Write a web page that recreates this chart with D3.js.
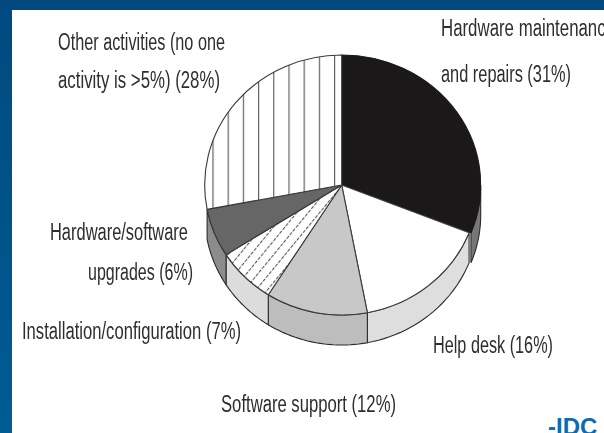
<!DOCTYPE html>
<html><head><meta charset="utf-8">
<script src="https://cdn.jsdelivr.net/npm/d3@7"></script>
<style>html,body{margin:0;padding:0;background:#004a80;overflow:hidden}svg{display:block}</style>
</head><body><div id="c"></div>
<script>
const categories = ["Hardware maintenance and repairs","Help desk","Software support","Installation/configuration","Hardware/software upgrades","Other activities"];
const values = [31,16,12,7,6,28];
const topFills = ["#1a1818","#ffffff","#c8c8c8","url(#diag)","#666666","url(#vert)"];
const sideFills = ["#777777","#dedede","#bdbdbd","#dcdcdc","#8c8c8c",null];
const labelLines = [
  {t:"Hardware maintenance",x:441,y:36,w:174},
  {t:"and repairs (31%)",x:441,y:82,w:130},
  {t:"Other activities (no one",x:58,y:50,w:167},
  {t:"activity is >5%) (28%)",x:58,y:88,w:162},
  {t:"Hardware/software",x:50,y:240,w:138},
  {t:"upgrades (6%)",x:88,y:280,w:105},
  {t:"Installation/configuration (7%)",x:22,y:339,w:219},
  {t:"Help desk (16%)",x:433,y:353,w:120},
  {t:"Software support (12%)",x:221,y:412,w:175}
];
const W=604,H=433,cx=341.7,cy=185,rx=137,blackRx=139,ry=130,depth=30;
const svg=d3.select("#c").append("svg").attr("width",W).attr("height",H).attr("viewBox",`0 0 ${W} ${H}`);
const defs=svg.append("defs");
const g=defs.append("linearGradient").attr("id","bg").attr("x1",0).attr("x2",0).attr("y1",0).attr("y2",1);
g.append("stop").attr("offset",0).attr("stop-color","#004a80");
g.append("stop").attr("offset",1).attr("stop-color","#005c93");
const pv=defs.append("pattern").attr("id","vert").attr("patternUnits","userSpaceOnUse").attr("width",15.2).attr("height",40).attr("x",-7.7);
pv.append("rect").attr("width",15.2).attr("height",40).attr("fill","#fff");
pv.append("line").attr("x1",0.6).attr("x2",0.6).attr("y1",0).attr("y2",40).attr("stroke","#555").attr("stroke-width",1.1);
const pd=defs.append("pattern").attr("id","diag").attr("patternUnits","userSpaceOnUse").attr("width",9).attr("height",5).attr("patternTransform","rotate(38)");
pd.append("rect").attr("width",9).attr("height",5).attr("fill","#fff");
pd.append("line").attr("x1",0.6).attr("x2",0.6).attr("y1",0).attr("y2",3.6).attr("stroke","#444").attr("stroke-width",1);
defs.append("clipPath").attr("id","page").append("rect").attr("x",12).attr("y",10).attr("width",W-12).attr("height",H-10);

svg.append("rect").attr("width",W).attr("height",H).attr("fill","url(#bg)");
const root=svg.append("g").style("filter","blur(0.45px)");
root.append("rect").attr("x",12).attr("y",10).attr("width",W-12).attr("height",H-10).attr("fill","#fff");

const slices=d3.pie().sort(null).value(d=>d).startAngle(0).endAngle(2*Math.PI)(values);
const sy=d3.scaleLinear().domain([-1,1]).range([cy-ry,cy+ry]);
const Q=Math.PI/2, Q3=3*Math.PI/2;

// walls of the visible front half
const walls=root.append("g");
slices.forEach((s,i)=>{
  if(!sideFills[i]) return;
  const r=i===0?blackRx:rx;
  const sx=d3.scaleLinear().domain([-1,1]).range([cx-r,cx+r]);
  const wall=d3.line().x(d=>sx(Math.sin(d.a))).y(d=>sy(-Math.cos(d.a))+d.o);
  const a0=Math.max(s.startAngle,Q), a1=Math.min(s.endAngle,Q3);
  if(a1<=a0) return;
  const top=d3.range(0,25).map(k=>({a:a0+(a1-a0)*k/24,o:0}));
  const bot=top.slice().reverse().map(p=>({a:p.a,o:depth}));
  walls.append("path").attr("d",wall(top.concat(bot))+"Z")
    .attr("fill",sideFills[i]).attr("stroke","#2b2b2b").attr("stroke-width",1.1);
});

// top face
const arc=d3.arc().innerRadius(0).outerRadius(rx);
root.append("g").selectAll("path").data(slices).join("path")
  .attr("transform",(d,i)=>`translate(${cx},${cy}) scale(${i===0?blackRx/rx:1},${ry/rx})`)
  .attr("d",arc).attr("fill",(d,i)=>topFills[i])
  .attr("stroke",(d,i)=>i===0?"#1a1818":"#3a3a3a").attr("stroke-width",1.1)
  .attr("stroke-linejoin","round").attr("vector-effect","non-scaling-stroke");

// labels
const txt=root.append("g").attr("clip-path","url(#page)").attr("font-family","'Liberation Sans',Arial,sans-serif").attr("fill","#2e2e2e").style("filter","blur(0.35px)");
txt.selectAll("text").data(labelLines).join("text")
  .attr("x",d=>d.x).attr("y",d=>d.y).attr("font-size",23)
  .attr("textLength",d=>d.w).attr("lengthAdjust","spacingAndGlyphs").text(d=>d.t);
svg.append("text").attr("x",548).attr("y",435).attr("font-family","'Liberation Sans',Arial,sans-serif")
  .attr("font-weight","bold").attr("font-size",24).attr("fill","#0a6db3").text("-IDC");
</script></body></html>
